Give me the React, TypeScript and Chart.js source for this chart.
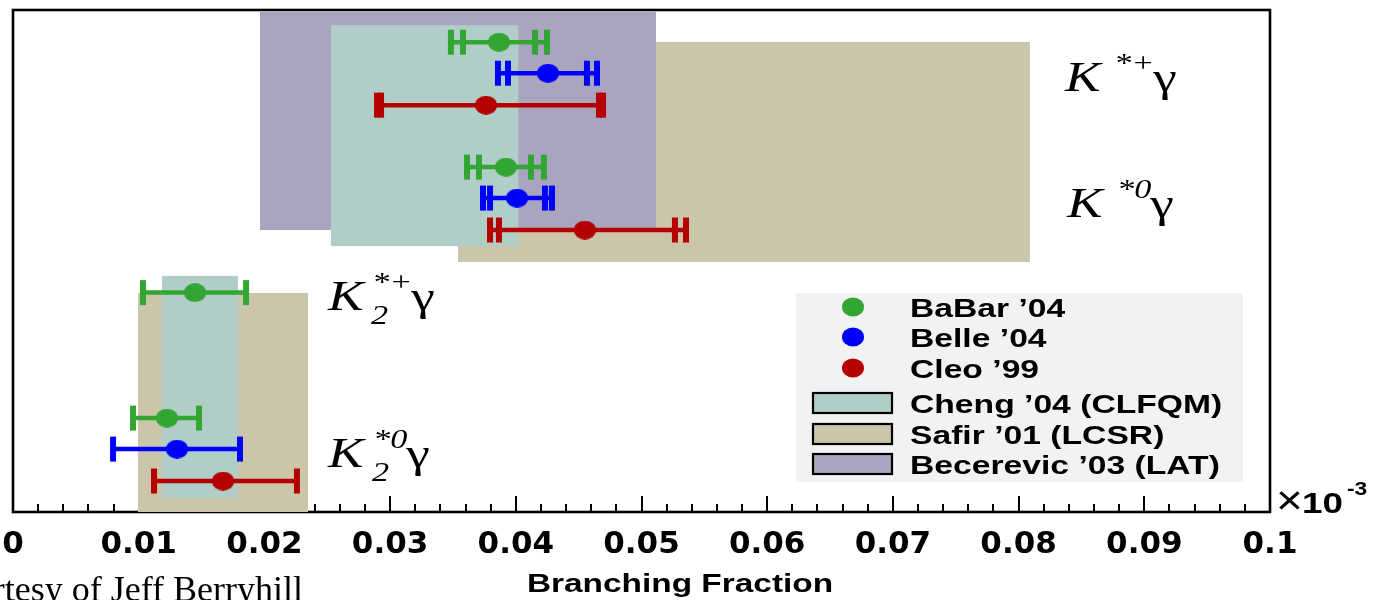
import React, { useEffect, useRef } from "react";
import { Chart, registerables } from "chart.js";
Chart.register(...registerables);

// ---------------- data ----------------
const experiments = ["BaBar \u201904", "Belle \u201904", "Cleo \u201999"];
const expColors = ["#32A532", "#0000FF", "#B40000"];

// decay modes, bottom-up position of their first (Cleo) row on the hidden y axis
const modes = ["K*+\u03b3", "K*0\u03b3", "K2*+\u03b3", "K2*0\u03b3"];
const modeRow = [13.13, 9.1, 5.05, 1.0];
const expRowOffset = [2.03, 1.03, 0];

// branching fractions (x10^-3 axis units), per mode [K*+, K*0, K2*+, K2*0]
const babarCentral = [0.03866, 0.03922, 0.01448, 0.01225];
const babarOuterLo = [0.03484, 0.03612, 0.01034, 0.00955];
const babarInnerLo = [0.0358, 0.03707, null, null];
const babarInnerHi = [0.04153, 0.04121, null, null];
const babarOuterHi = [0.04248, 0.04224, 0.01854, 0.0148];

const belleCentral = [0.04256, 0.0401, null, 0.01305];
const belleOuterLo = [0.03858, 0.03739, null, 0.00796];
const belleInnerLo = [0.03938, 0.03795, null, null];
const belleInnerHi = [0.04566, 0.04232, null, null];
const belleOuterHi = [0.04646, 0.04288, null, 0.01806];

const cleoCentral = [0.03763, 0.0455, null, 0.01671];
const cleoOuterLo = [0.02896, 0.03795, null, 0.01122];
const cleoInnerLo = [0.02928, 0.03866, null, null];
const cleoInnerHi = [0.04662, 0.05266, null, null];
const cleoOuterHi = [0.04694, 0.05354, null, 0.02259];

// theory predictions (bands)
const models = ["Cheng \u201904 (CLFQM)", "Safir \u201901 (LCSR)", "Becerevic \u201903 (LAT)"];
const modelColors = ["#B0CEC7", "#CBC6A9", "#A9A5BF"];
const chengLo = [0.0253, 0.01185];
const chengHi = [0.0402, 0.0179];
const chengRowLo = [8.58, 0.45];
const chengRowHi = [15.71, 7.62];
const safirLo = [0.0354, 0.00994];
const safirHi = [0.0809, 0.02347];
const safirRowLo = [8.07, 0];
const safirRowHi = [15.17, 7.07];
const becLo = [0.01965];
const becHi = [0.05115];
const becRowLo = [9.1];
const becRowHi = [16.15];

const xTickStep = 0.01;
const xMinorStep = 0.002;
const xMin = 0;
const xMax = 0.1;
const yMax = 16.2;

// ---------------- helpers ----------------
const central = [babarCentral, belleCentral, cleoCentral];
const outerLo = [babarOuterLo, belleOuterLo, cleoOuterLo];
const innerLo = [babarInnerLo, belleInnerLo, cleoInnerLo];
const innerHi = [babarInnerHi, belleInnerHi, cleoInnerHi];
const outerHi = [babarOuterHi, belleOuterHi, cleoOuterHi];

const bandSets = [
  { color: modelColors[1], lo: safirLo, hi: safirHi, rlo: safirRowLo, rhi: safirRowHi },
  { color: modelColors[2], lo: becLo, hi: becHi, rlo: becRowLo, rhi: becRowHi },
  { color: modelColors[0], lo: chengLo, hi: chengHi, rlo: chengRowLo, rhi: chengRowHi },
];

// mode labels: anchor (axis values), superscript, subscript
const modeLabels = [
  { x: 0.08369, y: 13.585, sup: "*+", sub: "", supDx: 49 },
  { x: 0.08385, y: 9.519, sup: "*0", sub: "", supDx: 50 },
  { x: 0.02506, y: 6.518, sup: "*+", sub: "2", supDx: 44 },
  { x: 0.02506, y: 1.452, sup: "*0", sub: "2", supDx: 45 },
];

const SX = 1.27;

function drawStretched(ctx: CanvasRenderingContext2D, text: string, x: number, y: number, font: string, sx: number, align: CanvasTextAlign = "left") {
  ctx.save();
  ctx.font = font;
  ctx.textAlign = align;
  ctx.textBaseline = "alphabetic";
  ctx.translate(x, y);
  ctx.scale(sx, 1);
  ctx.fillText(text, 0, 0);
  const w = ctx.measureText(text).width * sx;
  ctx.restore();
  return w;
}

function makeEllipse(color: string) {
  const c = document.createElement("canvas");
  c.width = 22;
  c.height = 19;
  const g = c.getContext("2d")!;
  g.fillStyle = color;
  g.beginPath();
  g.ellipse(11, 9.5, 11, 9.5, 0, 0, Math.PI * 2);
  g.fill();
  return c;
}

const decor = {
  id: "decor",
  beforeDatasetsDraw(chart: any) {
    const { ctx, chartArea: a, scales } = chart;
    const xs = scales.x;
    const ys = scales.y;
    ctx.save();
    // minor/major tick marks pointing inward
    ctx.strokeStyle = "#000";
    ctx.lineWidth = 2;
    const n = Math.round((xMax - xMin) / xMinorStep);
    const per = Math.round(xTickStep / xMinorStep);
    for (let i = 1; i < n; i++) {
      const px = Math.round(xs.getPixelForValue(xMin + i * xMinorStep));
      const len = i % per === 0 ? 16 : 8;
      ctx.beginPath();
      ctx.moveTo(px, a.bottom);
      ctx.lineTo(px, a.bottom - len);
      ctx.stroke();
    }
    // frame
    ctx.lineWidth = 2.6;
    ctx.strokeRect(a.left, a.top, a.right - a.left, a.bottom - a.top);
    // theory bands
    for (const b of bandSets) {
      ctx.fillStyle = b.color;
      for (let i = 0; i < b.lo.length; i++) {
        const x0 = xs.getPixelForValue(b.lo[i]);
        const x1 = xs.getPixelForValue(b.hi[i]);
        const y0 = ys.getPixelForValue(b.rhi[i]);
        const y1 = ys.getPixelForValue(b.rlo[i]);
        ctx.fillRect(x0, y0, x1 - x0, y1 - y0);
      }
    }
    ctx.restore();
  },
  afterDraw(chart: any) {
    const { ctx, chartArea: a, scales } = chart;
    const xs = scales.x;
    const ys = scales.y;
    ctx.save();
    ctx.fillStyle = "#000";

    // mode labels
    for (let i = 0; i < modeLabels.length; i++) {
      const L = modeLabels[i];
      const bx = xs.getPixelForValue(L.x);
      const by = ys.getPixelForValue(L.y);
      drawStretched(ctx, "K", bx, by, "italic 42px 'Liberation Serif'", SX);
      const sx0 = bx + L.supDx;
      const w = drawStretched(ctx, L.sup, sx0, by - 19, "italic 27px 'Liberation Serif'", SX);
      if (L.sub) drawStretched(ctx, L.sub, sx0 - 1, by + 14, "italic 27px 'Liberation Serif'", SX);
      drawStretched(ctx, "\u03b3", sx0 + w - 1, by, "42px 'Liberation Serif'", SX);
    }

    // legend
    const lx = a.left + 783;
    const ly = a.top + 283;
    ctx.fillStyle = "#F2F2F2";
    ctx.fillRect(lx, ly, 447, 189);
    const rows = [14, 44, 75, 110, 141, 171];
    const lfont = "bold 26.5px 'Liberation Sans'";
    for (let i = 0; i < experiments.length; i++) {
      const cy = ly + rows[i];
      ctx.fillStyle = expColors[i];
      ctx.beginPath();
      ctx.ellipse(lx + 57, cy, 11, 9.5, 0, 0, Math.PI * 2);
      ctx.fill();
      ctx.fillStyle = "#000";
      drawStretched(ctx, experiments[i], lx + 114, cy + 9.5, lfont, SX);
    }
    for (let j = 0; j < models.length; j++) {
      const cy = ly + rows[experiments.length + j];
      ctx.fillStyle = modelColors[j];
      ctx.fillRect(lx + 17, cy - 10, 79, 20);
      ctx.strokeStyle = "#000";
      ctx.lineWidth = 2.2;
      ctx.strokeRect(lx + 17, cy - 10, 79, 20);
      ctx.fillStyle = "#000";
      drawStretched(ctx, models[j], lx + 114, cy + 9.5, lfont, SX);
    }

    // axis title
    drawStretched(ctx, "Branching Fraction", a.left + 667, a.bottom + 80, "bold 25.5px 'Liberation Sans'", 1.31, "center");

    // exponent
    drawStretched(ctx, "\u00d7", a.right + 6, a.bottom + 2, "40px 'Liberation Sans'", 1.15);
    drawStretched(ctx, "10", a.right + 32, a.bottom + 1, "bold 29px 'Liberation Sans'", SX);
    drawStretched(ctx, "-3", a.right + 77, a.bottom - 17, "bold 18px 'Liberation Sans'", SX);

    // credit (cut off at the page edge)
    ctx.font = "36px 'Liberation Serif'";
    const full = "Courtesy of Jeff Berryhill";
    const fw = ctx.measureText(full).width;
    drawStretched(ctx, full, 303 - fw, 601, "36px 'Liberation Serif'", 1);
    ctx.restore();
  },
};

export default function App() {
  const ref = useRef<HTMLCanvasElement | null>(null);
  useEffect(() => {
    if (!ref.current) return;
    const datasets: any[] = [];
    // central values (drawn on top)
    for (let e = 0; e < experiments.length; e++) {
      const pts: any[] = [];
      central[e].forEach((c, m) => {
        if (c == null) return;
        pts.push({ x: c, y: modeRow[m] + expRowOffset[e] });
      });
      datasets.push({
        label: experiments[e],
        data: pts,
        pointStyle: makeEllipse(expColors[e]),
        pointRadius: 11,
        showLine: false,
        order: 0,
      });
    }
    // error bars
    for (let e = 0; e < experiments.length; e++) {
      central[e].forEach((c, m) => {
        if (c == null) return;
        const y = modeRow[m] + expRowOffset[e];
        const xsv = [outerLo[e][m], innerLo[e][m], innerHi[e][m], outerHi[e][m]].filter((v) => v != null) as number[];
        datasets.push({
          label: experiments[e] + " " + modes[m],
          data: xsv.map((x) => ({ x, y })),
          showLine: true,
          borderColor: expColors[e],
          borderWidth: 4.5,
          pointStyle: "line",
          pointRotation: 90,
          pointRadius: 12.5,
          pointBorderWidth: 6,
          pointBorderColor: expColors[e],
          pointBackgroundColor: expColors[e],
          fill: false,
          order: 1,
        });
      });
    }
    const chart = new Chart(ref.current, {
      type: "scatter",
      data: { datasets },
      options: {
        animation: false,
        responsive: false,
        devicePixelRatio: 1,
        events: [],
        layout: { autoPadding: false, padding: { left: 13, right: 105, top: 10, bottom: 0 } },
        plugins: { legend: { display: false }, tooltip: { enabled: false } },
        scales: {
          x: {
            type: "linear",
            min: xMin,
            max: xMax,
            grid: { display: false, drawTicks: false },
            border: { display: false },
            ticks: {
              stepSize: xTickStep,
              autoSkip: false,
              maxRotation: 0,
              padding: 14,
              color: "#000",
              font: { family: "'DejaVu Sans'", size: 31, weight: "bold" },
              callback: (v: any) => String(parseFloat(Number(v).toFixed(3))),
            },
            afterFit: (s: any) => {
              s.height = 88;
              s.paddingLeft = 0;
              s.paddingRight = 0;
            },
          },
          y: { type: "linear", min: 0, max: yMax, display: false },
        },
      },
      plugins: [decor],
    } as any);
    return () => chart.destroy();
  }, []);
  return (
    <div style={{ position: "fixed", left: 0, top: 0, width: 1375, height: 600, background: "#fff" }}>
      <canvas ref={ref} width={1375} height={600} style={{ width: 1375, height: 600, display: "block" }} />
    </div>
  );
}
